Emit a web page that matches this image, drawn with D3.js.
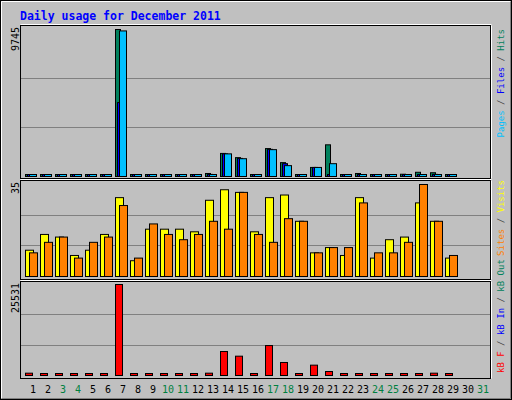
<!DOCTYPE html>
<html>
<head>
<meta charset="utf-8">
<script src="https://cdn.jsdelivr.net/npm/d3@7"></script>
<style>
  body { margin: 0; background: #fff; }
  text { font-family: "DejaVu Sans Mono", monospace; }
</style>
</head>
<body>
<script>
// daily values, December 2011 (days 30 and 31 have no data)
var days = d3.range(1, 32);
var weekends = [3, 4, 10, 11, 17, 18, 24, 25, 31];
var hits  = [40,40,40,40,40,40,9745,40,40,40,40,100,200,1530,1250,40,1850,920,40,600,2100,40,200,40,40,150,280,250,40,null,null];
var files = [40,40,40,40,40,40,4900,40,40,40,40,60,140,1500,1200,40,1800,850,40,600,60,40,60,40,40,60,60,140,40,null,null];
var pages = [40,40,40,40,40,40,9650,40,40,40,40,50,130,1500,1180,40,1780,720,40,600,850,40,50,40,40,60,50,130,40,null,null];
var visits = [10,16,15,8,10,16,30,6,18,18,18,17,29,33,32,17,30,31,21,9,11,8,30,7,14,15,28,21,7,null,null];
var sites  = [9,13,15,7,13,15,27,7,20,16,14,16,21,18,32,16,13,22,21,9,11,11,28,9,9,13,35,21,8,null,null];
var kbytes = [650,200,200,200,200,200,25531,200,200,200,200,200,650,6730,5420,200,8400,3650,200,2900,1120,200,200,200,200,200,200,650,200,null,null];
var maxHits = 9745, maxVisits = 35, maxKB = 25531;

var svg = d3.select("body").append("svg")
  .attr("width", 512).attr("height", 400);

// outer frame
svg.append("rect").attr("x", 0.5).attr("y", 0.5).attr("width", 511).attr("height", 399)
  .attr("fill", "#c0c0c0").attr("stroke", "#000");
svg.append("path").attr("d", "M1.5,398.5V1.5H510.5").attr("fill", "none").attr("stroke", "#fff");
svg.append("path").attr("d", "M1.5,398.5H510.5V1.5").attr("fill", "none").attr("stroke", "#808080");

svg.append("text").attr("x", 20).attr("y", 20)
  .attr("fill", "#0000ff").attr("font-weight", "bold").attr("font-size", 11.5)
  .text("Daily usage for December 2011");

var x = d3.scaleLinear().domain([1, 31]).range([25, 475]);

var panels = [
  {top: 25, bottom: 178, y: d3.scaleLinear().domain([0, maxHits]).range([176, 29]), max: maxHits},
  {top: 180, bottom: 279, y: d3.scaleLinear().domain([0, maxVisits]).range([276, 184]), max: maxVisits},
  {top: 281, bottom: 378, y: d3.scaleLinear().domain([0, maxKB]).range([375, 284]), max: maxKB}
];

panels.forEach(function(p) {
  svg.append("rect").attr("x", 20.5).attr("y", p.top + 0.5)
    .attr("width", 470).attr("height", p.bottom - p.top)
    .attr("fill", "#c0c0c0").attr("stroke", "#000");
  svg.append("path").attr("d", "M20.5," + (p.top - 0.5) + "H491.5")
    .attr("stroke", "#fff").attr("fill", "none");
  svg.append("path").attr("d", "M491.5," + (p.top + 0.5) + "V" + (p.bottom + 0.5))
    .attr("stroke", "#fff").attr("fill", "none");
  svg.selectAll(null).data([p.max / 3, p.max * 2 / 3]).enter().append("line")
    .attr("x1", 21).attr("x2", 490)
    .attr("y1", d => Math.round(p.y(d)) + 0.5).attr("y2", d => Math.round(p.y(d)) + 0.5)
    .attr("stroke", "#808080");
  svg.append("text")
    .attr("transform", "translate(19," + (p.top + 2) + ") rotate(-90)")
    .attr("text-anchor", "end").attr("font-size", 10).attr("fill", "#000")
    .text(p.max);
});

function bars(vals, y, dx, w, color) {
  svg.append("g").selectAll("rect")
    .data(days.filter(d => vals[d - 1] != null))
    .enter().append("rect")
    .attr("x", d => x(d) + dx + 0.5)
    .attr("y", d => Math.min(y(vals[d - 1]), y(0) - 2) + 0.5)
    .attr("width", w)
    .attr("height", d => Math.max(y(0) - y(vals[d - 1]), 2))
    .attr("fill", color).attr("stroke", "#000");
}

bars(hits, panels[0].y, 0, 5, "#00805c");
bars(files, panels[0].y, 2, 5, "#0000ff");
bars(pages, panels[0].y, 4, 7, "#00c0ff");
bars(visits, panels[1].y, 0, 8, "#ffff00");
bars(sites, panels[1].y, 4, 8, "#ff8000");
bars(kbytes, panels[2].y, 0, 7, "#ff0000");

// day labels
svg.append("g").selectAll("text").data(days).enter().append("text")
  .attr("x", d => x(d) + 8).attr("y", 393)
  .attr("text-anchor", "middle").attr("font-size", 10)
  .attr("fill", d => weekends.includes(d) ? "#008040" : "#000")
  .text(d => d);

// rotated legends on the right
function legend(parts, y0, anchor) {
  var t = svg.append("text")
    .attr("transform", "translate(504," + y0 + ") rotate(-90)")
    .attr("text-anchor", anchor).attr("font-size", 9);
  parts.forEach(function(p) { t.append("tspan").attr("fill", p[1]).text(p[0]); });
}
legend([["Pages", "#00c0ff"], [" / ", "#404040"], ["Files", "#0000ff"], [" / ", "#404040"], ["Hits", "#00805c"]], 29, "end");
legend([["Sites", "#ff8000"], [" / ", "#404040"], ["Visits", "#ffff00"]], 180, "end");
legend([["kB F", "#ff0000"], [" / ", "#404040"], ["kB In", "#0000ff"], [" / ", "#404040"], ["kB Out", "#00805c"]], 373, "start");
</script>
</body>
</html>
